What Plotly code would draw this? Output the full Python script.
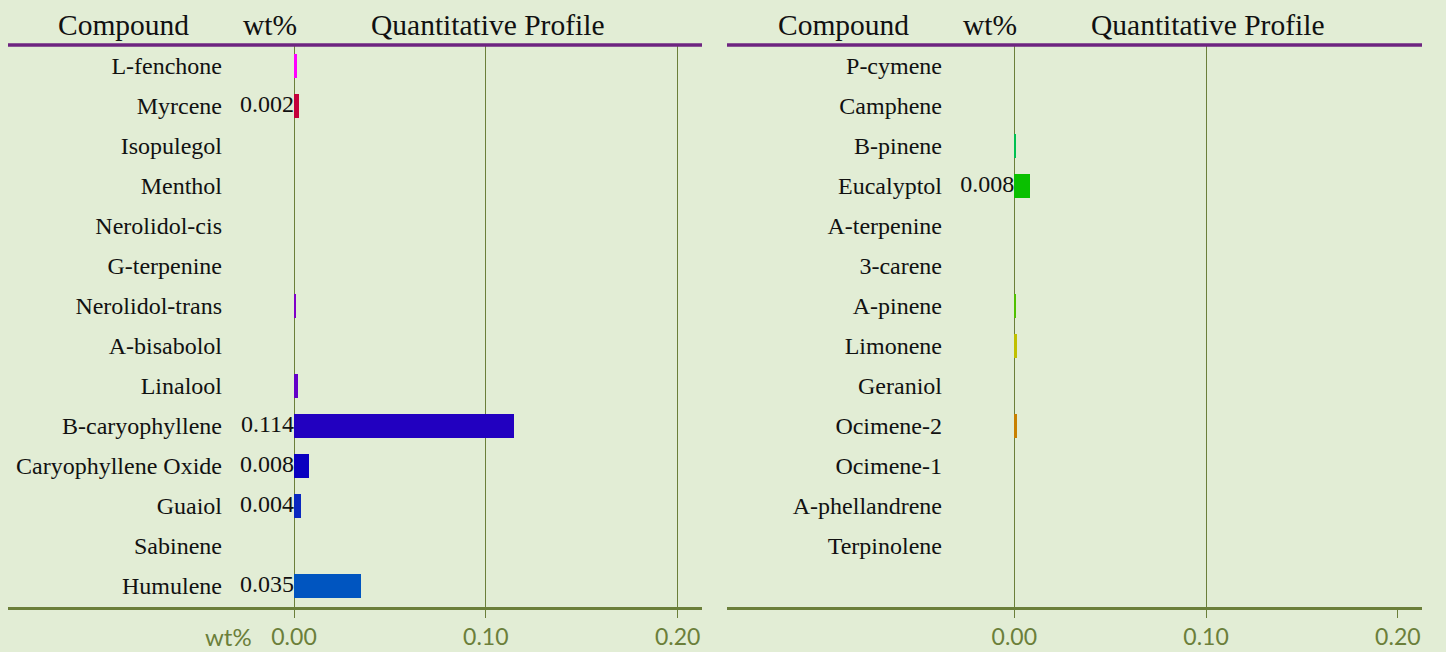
import plotly.graph_objects as go

# ---------------- data ----------------
left_compounds = ["L-fenchone", "Myrcene", "Isopulegol", "Menthol", "Nerolidol-cis",
                  "G-terpenine", "Nerolidol-trans", "A-bisabolol", "Linalool",
                  "B-caryophyllene", "Caryophyllene Oxide", "Guaiol", "Sabinene", "Humulene"]
left_values = [0.0014, 0.0024, 0, 0, 0, 0, 0.0012, 0, 0.0022, 0.1148, 0.0080, 0.0038, 0, 0.0348]
left_labels = ["", "0.002", "", "", "", "", "", "", "", "0.114", "0.008", "0.004", "", "0.035"]
left_colors = ["#ff00ff", "#c4003c", "#b000a8", "#a000b8", "#9000c0", "#8800c4", "#8000c8",
               "#7000c8", "#6400c8", "#2200c0", "#0a00c0", "#0a28c0", "#0040c0", "#0055c0"]

right_compounds = ["P-cymene", "Camphene", "B-pinene", "Eucalyptol", "A-terpenine", "3-carene",
                   "A-pinene", "Limonene", "Geraniol", "Ocimene-2", "Ocimene-1",
                   "A-phellandrene", "Terpinolene"]
right_values = [0, 0, 0.0005, 0.0082, 0, 0, 0.0005, 0.0014, 0, 0.0014, 0, 0, 0]
right_labels = ["", "", "", "0.008", "", "", "", "", "", "", "", "", ""]
right_colors = ["#00a0c0", "#00b0a0", "#00c050", "#0ac000", "#20c000", "#38c000", "#50c000",
                "#c0c000", "#c8a000", "#c88000", "#c86000", "#c84000", "#c82000"]

tick_vals = [0, 0.1, 0.2]
tick_text = ["0.00", "0.10", "0.20"]

# ---------------- styling ----------------
W, H = 1446, 652
OLIVE = "#6b7f3a"
PURPLE = "#6e2480"
SERIF = "Liberation Serif, Times New Roman, serif"
SANS = "Lato, Open Sans, sans-serif"
BG = "#e2edd5"

def px(x):
    return x / W

def py(y):
    return 1 - y / H

ydom = [py(607), py(44)]
yrange = [13.525, -0.55]

fig = go.Figure()

# left panel bars
fig.add_trace(go.Bar(
    x=left_values, y=list(range(len(left_compounds))), orientation="h",
    marker=dict(color=left_colors, line=dict(width=0)), width=0.62,
    xaxis="x", yaxis="y", showlegend=False, hoverinfo="x+text",
    hovertext=left_compounds))
fig.add_trace(go.Scatter(
    x=[0] * len(left_values), y=list(range(len(left_compounds))), mode="text",
    text=left_labels, textposition="middle left",
    textfont=dict(family=SERIF, size=24, color="#111111"),
    xaxis="x", yaxis="y", showlegend=False, hoverinfo="skip"))

# right panel bars
fig.add_trace(go.Bar(
    x=right_values, y=list(range(len(right_compounds))), orientation="h",
    marker=dict(color=right_colors, line=dict(width=0)), width=0.62,
    xaxis="x2", yaxis="y2", showlegend=False, hoverinfo="x+text",
    hovertext=right_compounds))
fig.add_trace(go.Scatter(
    x=[0] * len(right_values), y=list(range(len(right_compounds))), mode="text",
    text=right_labels, textposition="middle left",
    textfont=dict(family=SERIF, size=24, color="#111111"),
    xaxis="x3", yaxis="y2", showlegend=False, hoverinfo="skip"))

common_x = dict(
    tickmode="array", tickvals=tick_vals, ticktext=tick_text,
    tickfont=dict(family=SANS, size=23, color=OLIVE),
    ticks="outside", ticklen=8, tickcolor=OLIVE, tickwidth=1,
    showline=True, linecolor=OLIVE, linewidth=2.5,
    gridcolor=OLIVE, gridwidth=1, zeroline=False, fixedrange=True,
    automargin=False)

common_y = dict(
    tickmode="array", showgrid=False, zeroline=False, showline=False,
    ticks="", tickfont=dict(family=SERIF, size=24, color="#111111"),
    range=yrange, domain=ydom, fixedrange=True, automargin=False)

fig.update_layout(
    width=W, height=H,
    margin=dict(l=0, r=0, t=0, b=0),
    paper_bgcolor=BG, plot_bgcolor="rgba(0,0,0,0)",
    bargap=0,
    xaxis=dict(domain=[px(8), px(702)], range=[-0.1491, 0.2127], anchor="y",
               showgrid=True, **common_x),
    yaxis=dict(anchor="free", position=px(222),
               tickvals=list(range(len(left_compounds))), ticktext=left_compounds,
               **common_y),
    xaxis2=dict(domain=[px(727), px(1422)], range=[-0.1498, 0.2126], anchor="y2",
                **{**common_x, "tickvals": [0, 0.1], "ticktext": ["", ""],
                   "showticklabels": False, "ticks": "", "showline": False},
                showgrid=True),
    xaxis3=dict(overlaying="x2", range=[-0.1498, 0.2126], anchor="y2",
                showgrid=False, **{k: v for k, v in common_x.items() if k != "gridcolor"}),
    yaxis2=dict(anchor="free", position=px(942),
                tickvals=list(range(len(right_compounds))), ticktext=right_compounds,
                **common_y),
)

# header rules
for x0, x1 in [(8, 702), (727, 1422)]:
    fig.add_shape(type="line", xref="paper", yref="paper",
                  x0=px(x0), x1=px(x1), y0=py(45), y1=py(45),
                  line=dict(color=PURPLE, width=3.5))

# headers
for off in (0, 720):
    for text, cx in [("Compound", 123), ("wt%", 270), ("Quantitative Profile", 487)]:
        fig.add_annotation(text=text, x=px(cx + off), y=py(25), xref="paper", yref="paper",
                           xanchor="center", yanchor="middle", showarrow=False,
                           font=dict(family=SERIF, size=29.5, color="#111111"))

fig.add_annotation(text="wt%", x=px(228), y=py(636), xref="paper", yref="paper",
                   xanchor="center", yanchor="middle", showarrow=False,
                   font=dict(family=SANS, size=24, color=OLIVE))

fig.write_html("out.html",
               config={"displayModeBar": False},
               post_script="document.body.style.margin='0';"
                           "document.body.style.overflow='hidden';"
                           "document.body.style.background='" + BG + "';")
